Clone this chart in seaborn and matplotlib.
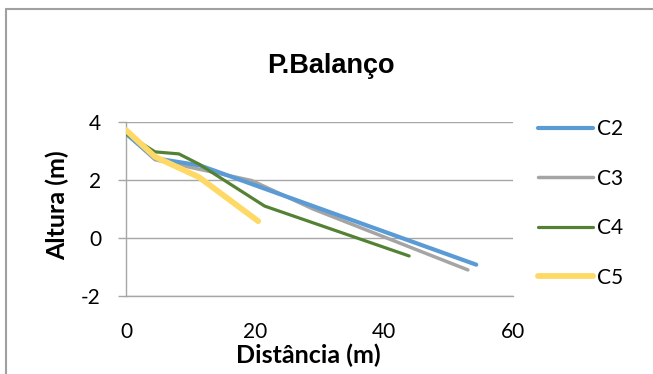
import matplotlib
matplotlib.use("Agg")
import matplotlib.pyplot as plt
from matplotlib.lines import Line2D
import seaborn as sns
import pandas as pd

# Profile series: distance (m) and height (m)
distancia_c2 = [0, 4.5, 11.5, 29, 54.3]
altura_c2 = [3.6, 2.75, 2.5, 1.1, -0.92]

distancia_c3 = [0, 4.5, 19.5, 29, 53]
altura_c3 = [3.6, 2.7, 1.98, 1.0, -1.1]

distancia_c4 = [0, 4.5, 8.2, 11.3, 21.5, 43.9]
altura_c4 = [3.6, 2.97, 2.9, 2.55, 1.1, -0.62]

distancia_c5 = [0, 4.5, 11.3, 20.5]
altura_c5 = [3.72, 2.8, 2.1, 0.58]

series_names = ["C2", "C3", "C4", "C5"]
x_ticks = [0, 20, 40, 60]
y_ticks = [-2, 0, 2, 4]

colors = {"C2": "#5B9BD5", "C3": "#A5A5A5", "C4": "#548235", "C5": "#FFD966"}
widths = {"C2": 3.0, "C3": 2.5, "C4": 2.3, "C5": 4.2}
zorders = {"C2": 4, "C3": 3, "C4": 5, "C5": 6}

frames = []
for name, xs, ys in zip(series_names,
                        [distancia_c2, distancia_c3, distancia_c4, distancia_c5],
                        [altura_c2, altura_c3, altura_c4, altura_c5]):
    frames.append(pd.DataFrame({"Distância": xs, "Altura": ys, "Série": name}))
df = pd.concat(frames, ignore_index=True)

sns.set_theme(style="white")
plt.rcParams["font.family"] = ["Lato", "DejaVu Sans"]
plt.rcParams["axes.unicode_minus"] = False
plt.rcParams["text.color"] = "#000000"
plt.rcParams["axes.labelcolor"] = "#000000"

fig = plt.figure(figsize=(6.53, 3.74), dpi=100)
ax = fig.add_axes([126 / 653, 78 / 374, 387 / 653, 174 / 374])

for name in series_names:
    sub = df[df["Série"] == name]
    sns.lineplot(data=sub, x="Distância", y="Altura", ax=ax, sort=False,
                 color=colors[name], linewidth=widths[name], label=name,
                 zorder=zorders[name], solid_capstyle="round",
                 solid_joinstyle="round")

ax.set_xlim(0, 60)
ax.set_ylim(-2, 4)
ax.set_xticks(x_ticks)
ax.set_yticks(y_ticks)
ax.grid(axis="y", color="#A6A6A6", linewidth=1.0)
ax.grid(axis="x", visible=False)
ax.set_axisbelow(True)

for side in ["top", "right"]:
    ax.spines[side].set_visible(False)
for side in ["left", "bottom"]:
    ax.spines[side].set_color("#A6A6A6")
    ax.spines[side].set_linewidth(1.0)

ax.tick_params(axis="y", left=True, length=6, width=1.0, color="#A6A6A6",
               labelsize=15, pad=12, labelcolor="#000000")
ax.tick_params(axis="x", bottom=False, labelsize=15, pad=12.5,
               labelcolor="#000000")

ax.set_xlabel("Distância (m)", fontsize=18, fontweight="bold")
ax.xaxis.set_label_coords(0.4716, -0.276)
ax.set_ylabel("Altura (m)", fontsize=18, fontweight="bold")
ax.yaxis.set_label_coords(-0.147, 0.523)

fig.text(331 / 653, 1 - 66 / 374, "P.Balanço", fontsize=19.5,
         fontweight="bold", family=["Liberation Sans", "DejaVu Sans"],
         ha="center", va="center")

handles = [Line2D([0], [0], color=colors[n], linewidth=widths[n],
                  solid_capstyle="round") for n in series_names]
ax.legend(handles, series_names, loc="center left",
          bbox_to_anchor=(538 / 653, 1 - 203.3 / 374),
          bbox_transform=fig.transFigure, frameon=False, fontsize=15,
          handlelength=2.62, handletextpad=0.21, labelspacing=1.42,
          borderpad=0, borderaxespad=0)

# chart border (top and left edges)
fig.add_artist(Line2D([6 / 653, 6 / 653], [0, 1 - 9 / 374],
                      transform=fig.transFigure, color="#A0A0A0", linewidth=1.5))
fig.add_artist(Line2D([6 / 653, 1], [1 - 9 / 374, 1 - 9 / 374],
                      transform=fig.transFigure, color="#A0A0A0", linewidth=1.5))

fig.savefig("out.png", dpi=100)
